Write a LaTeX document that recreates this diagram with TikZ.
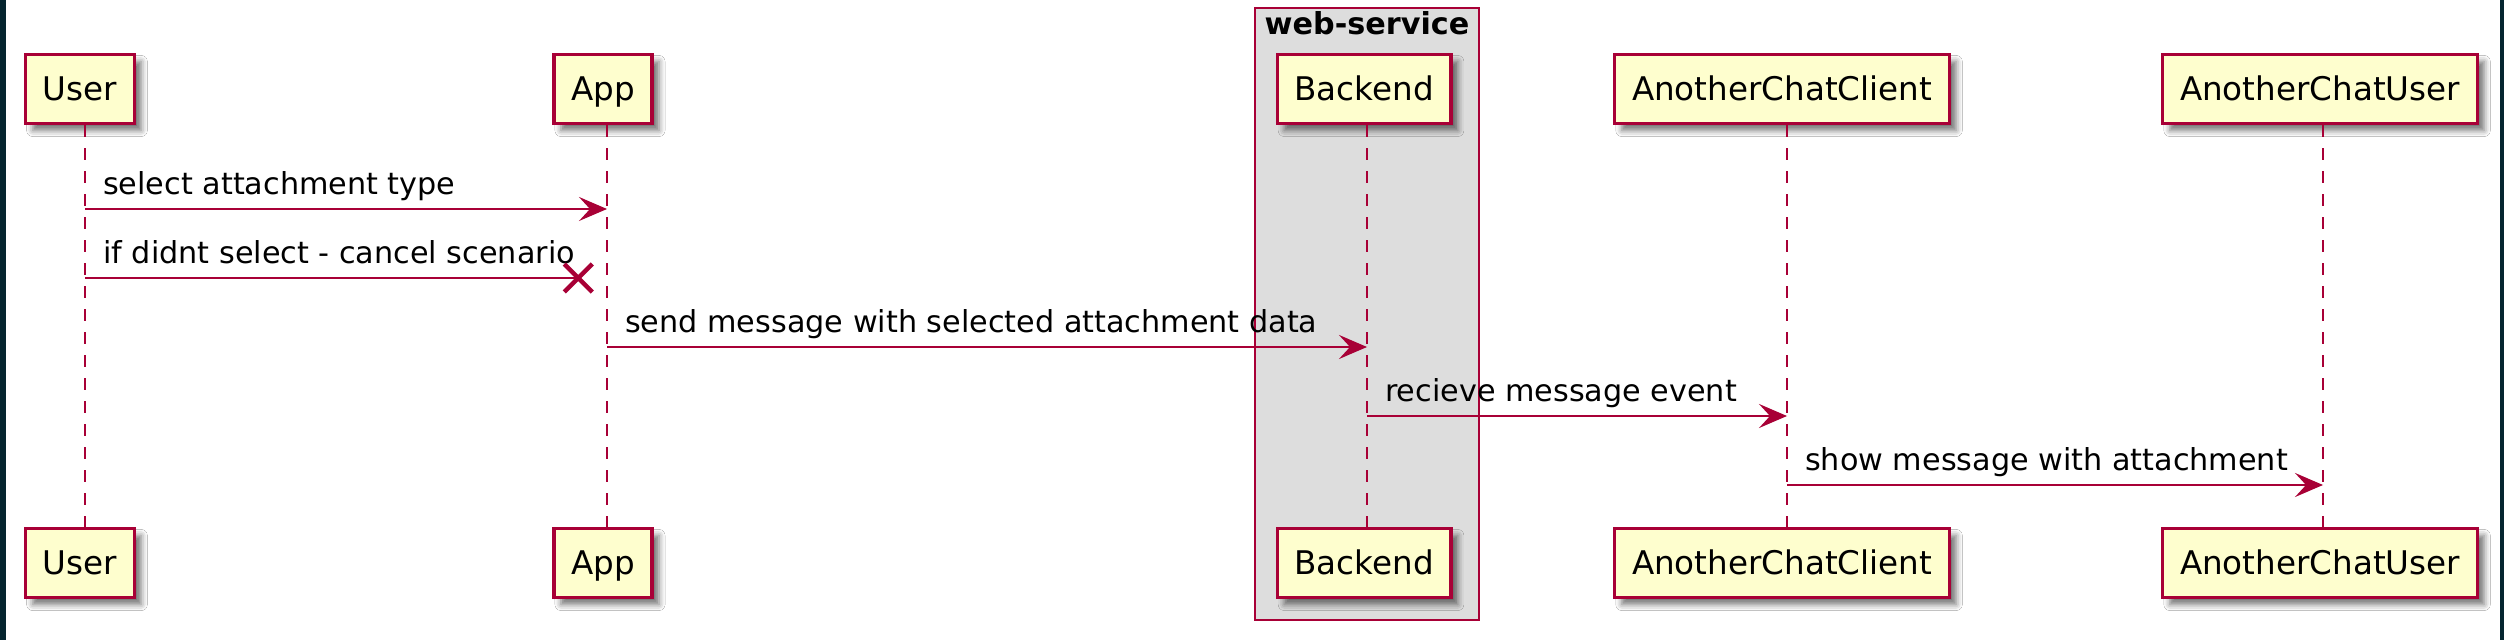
\documentclass[tikz,border=0pt]{standalone}
\usepackage{fontspec}
\setmainfont{DejaVu Sans}
\usetikzlibrary{arrows.meta,shadows.blur}
\definecolor{umlred}{HTML}{A80036}
\definecolor{umlbox}{HTML}{FEFECE}
\definecolor{umlgroup}{HTML}{DDDDDD}
\definecolor{edgedark}{HTML}{05252F}
\begin{document}
\begin{tikzpicture}
	[	x=0.01cm,y=-0.01cm,
	party/.style={rectangle,draw=umlred,fill=umlbox,line width=.033cm,minimum height=.69cm,inner xsep=.172cm,text height=.237cm,text depth=0cm,font=\fontsize{9.26}{11}\selectfont,blur shadow={shadow xshift=.07cm,shadow yshift=-.07cm,shadow blur radius=.06cm,shadow opacity=55}},
	grp/.style={rectangle,draw=umlred,fill=umlgroup,line width=.023cm,inner sep=0pt},
	life/.style={draw=umlred,line width=.023cm,dash pattern=on .115cm off .115cm},
	msg/.style={draw=umlred,line width=.023cm,-{Stealth[length=.28cm,width=.24cm,inset=.11cm]}},
	lost/.style={draw=umlred,line width=.045cm},
	txt/.style={text=black,font=\fontsize{8.6}{10}\selectfont,inner sep=0pt,anchor=base west,pos=0,xshift=.17cm,yshift=.14cm}
	]
	\useasboundingbox (0,0) rectangle (2504,640);
	\fill[white] (0,0) rectangle (2504,640);
	\fill[edgedark] (0,0) rectangle (6,640);
	\fill[edgedark] (2500,0) rectangle (2504,640);
	\node[grp,minimum width=2.24cm,minimum height=6.12cm] (webservice) at (1367,314) {};
	\node[font=\bfseries\fontsize{8.6}{10}\selectfont,inner sep=0pt,anchor=base] (wstitle) at (1367,35) {web-service};
	\node[party] (userT) at (80,89) {User};
	\node[party] (appT) at (603,89) {App};
	\node[party] (backT) at (1364,89) {Backend};
	\node[party] (clientT) at (1782,89) {AnotherChatClient};
	\node[party] (otherT) at (2320,89) {AnotherChatUser};
	\node[party] (userB) at (80,563) {User};
	\node[party] (appB) at (603,563) {App};
	\node[party] (backB) at (1364,563) {Backend};
	\node[party] (clientB) at (1782,563) {AnotherChatClient};
	\node[party] (otherB) at (2320,563) {AnotherChatUser};
	\coordinate (userL) at ([xshift=.05cm]userT.south);
	\coordinate (appL) at ([xshift=.04cm]appT.south);
	\coordinate (backL) at ([xshift=.03cm]backT.south);
	\coordinate (clientL) at ([xshift=.05cm]clientT.south);
	\coordinate (otherL) at ([xshift=.03cm]otherT.south);
	\draw[life] (userL) -- (userL |- userB.north);
	\draw[life] (appL) -- (appL |- appB.north);
	\draw[life] (backL) -- (backL |- backB.north);
	\draw[life] (clientL) -- (clientL |- clientB.north);
	\draw[life] (otherL) -- (otherL |- otherB.north);
	\coordinate (m1) at (0,209);
	\coordinate (m2) at (0,278);
	\coordinate (m3) at (0,347);
	\coordinate (m4) at (0,416);
	\coordinate (m5) at (0,485);
	\draw[msg] (userL |- m1) -- node[txt]{select attachment type} (appL |- m1);
	\path (appL |- m2) ++(-28.7,0) coordinate (lostX);
	\draw[draw=umlred,line width=.023cm] (userL |- m2) -- node[txt]{if didnt select - cancel scenario} (lostX);
	\draw[lost] ([shift={(-14,-14)}]lostX) -- ([shift={(14,14)}]lostX) ([shift={(-14,14)}]lostX) -- ([shift={(14,-14)}]lostX);
	\draw[msg] (appL |- m3) -- node[txt]{send message with selected attachment data} (backL |- m3);
	\draw[msg] (backL |- m4) -- node[txt]{recieve message event} (clientL |- m4);
	\draw[msg] (clientL |- m5) -- node[txt]{show message with attachment} (otherL |- m5);
\end{tikzpicture}
\end{document}
